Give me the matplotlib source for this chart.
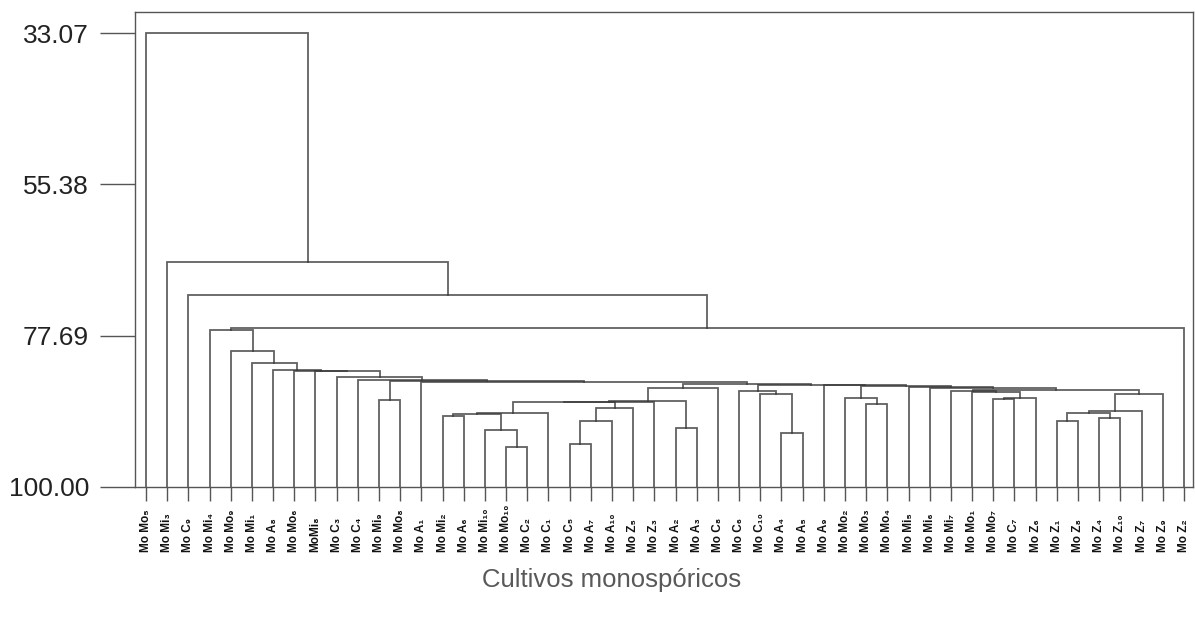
import matplotlib
matplotlib.use("Agg")
import matplotlib.pyplot as plt
import matplotlib.transforms as mtransforms

# leaf labels, left to right
leaves = [
    "Mo Mo₅", "Mo Mi₃", "Mo C₉", "Mo Mi₄", "Mo Mo₉", "Mo Mi₁", "Mo A₈", "Mo Mo₆",
    "MoMi₈", "Mo C₃", "Mo C₄", "Mo Mi₉", "Mo Mo₈", "Mo A₁", "Mo Mi₂", "Mo A₆",
    "Mo Mi₁₀", "Mo Mo₁₀", "Mo C₂", "Mo C₁", "Mo C₅", "Mo A₇", "Mo A₁₀", "Mo Z₅",
    "Mo Z₃", "Mo A₂", "Mo A₃", "Mo C₈", "Mo C₆", "Mo C₁₀", "Mo A₄", "Mo A₅",
    "Mo A₉", "Mo Mo₂", "Mo Mo₃", "Mo Mo₄", "Mo Mi₅", "Mo Mi₆", "Mo Mi₇", "Mo Mo₁",
    "Mo Mo₇", "Mo C₇", "Mo Z₆", "Mo Z₁", "Mo Z₈", "Mo Z₄", "Mo Z₁₀", "Mo Z₇",
    "Mo Z₉", "Mo Z₂",
]

# merges: (name, left, right, similarity); ints are leaf numbers (1-based)
merges = [
    ("k1", 18, 19, 94.10), ("q1", 21, 22, 93.62), ("s2", 31, 32, 92.00),
    ("k2", 17, "k1", 91.64), ("s1", 26, 27, 91.35), ("q2", "q1", 23, 90.31),
    ("w1", 44, 45, 90.27), ("w2", 46, 47, 89.87), ("p1", 15, 16, 89.49),
    ("p2", "p1", "k2", 89.28), ("p3", "p2", 20, 89.05), ("w3", "w1", "w2", 89.05),
    ("w4", "w3", 48, 88.75), ("q3", "q2", 24, 88.31), ("t1", 35, 36, 87.72),
    ("r1", "p3", "q3", 87.51), ("r2", "r1", 25, 87.42), ("r3", "r2", "s1", 87.37),
    ("m1", 12, 13, 87.17), ("v1", 41, 42, 87.03), ("v2", "v1", 43, 86.92),
    ("t2", 34, "t1", 86.88), ("w5", "w4", 49, 86.33), ("s3", 30, "s2", 86.25),
    ("v3", 40, "v2", 86.04), ("v4", 39, "v3", 85.89), ("s4", 29, "s3", 85.85),
    ("v6", "v4", "w5", 85.77), ("v7", 38, "v6", 85.45), ("r4", "r3", 28, 85.36),
    ("z2", 37, "v7", 85.23), ("z1", "t2", "z2", 85.08), ("z0", 33, "z1", 85.01),
    ("y0", "s4", "z0", 84.89), ("n0", "r4", "y0", 84.77), ("m0", 14, "n0", 84.45),
    ("l0", "m1", "m0", 84.37), ("k0", 11, "l0", 84.27), ("j0", 10, "k0", 83.78),
    ("i0", 9, "j0", 82.97), ("h0", 8, "i0", 82.87), ("g0", 7, "h0", 82.75),
    ("f0", 6, "g0", 81.72), ("e0", 5, "f0", 79.95), ("d0", 4, "e0", 76.85),
    ("c0", "d0", 50, 76.56), ("b0", 3, "c0", 71.69), ("a0", 2, "b0", 66.83),
    ("root", 1, "a0", 33.07),
]

y_ticks = [33.07, 55.38, 77.69, 100.00]
x_title = "Cultivos monospóricos"

LINE = "#3a3a3a"

fig = plt.figure(figsize=(11.95, 6.26), dpi=100)
ax = fig.add_axes([135 / 1195, 1 - 487 / 626, 1058 / 1195, 475 / 626])

pos = {}
for i in range(1, len(leaves) + 1):
    pos[i] = (i, 100.0)

for name, left, right, sim in merges:
    xl, yl = pos[left]
    xr, yr = pos[right]
    ax.plot([xl, xl, xr, xr], [yl, sim, sim, yr], color=LINE, lw=1.3,
            alpha=0.8, solid_joinstyle="miter")
    pos[name] = ((xl + xr) / 2, sim)

ax.set_xlim(0.48, 50.43)
ax.set_ylim(100.0, 29.97)

ax.set_yticks(y_ticks, labels=[f"{v:.2f}" for v in y_ticks])
ax.tick_params(axis="y", length=25, width=1.0, color="#555555", pad=8,
               labelsize=19, labelcolor="#222222")
ax.set_xticks(range(1, len(leaves) + 1), labels=[])
ax.tick_params(axis="x", length=10, width=1.0, color="#555555")

for sp in ax.spines.values():
    sp.set_color("#555555")
    sp.set_linewidth(1.0)

for tick_label in ax.get_yticklabels():
    tick_label.set_family("Liberation Sans")

trans = mtransforms.blended_transform_factory(ax.transData, ax.transAxes)
for i, lab in enumerate(leaves, start=1):
    ax.text(i, -0.137, lab, transform=trans, rotation=90, ha="center",
            va="bottom", fontsize=8.5, fontweight="bold",
            family=["Liberation Sans", "DejaVu Sans"], color="#111111")

fig.text(612 / 1195, 1 - 580 / 626, x_title, ha="center", va="center",
         fontsize=18.5, color="#595959", family="Liberation Sans")

fig.savefig("out.png", dpi=100)
